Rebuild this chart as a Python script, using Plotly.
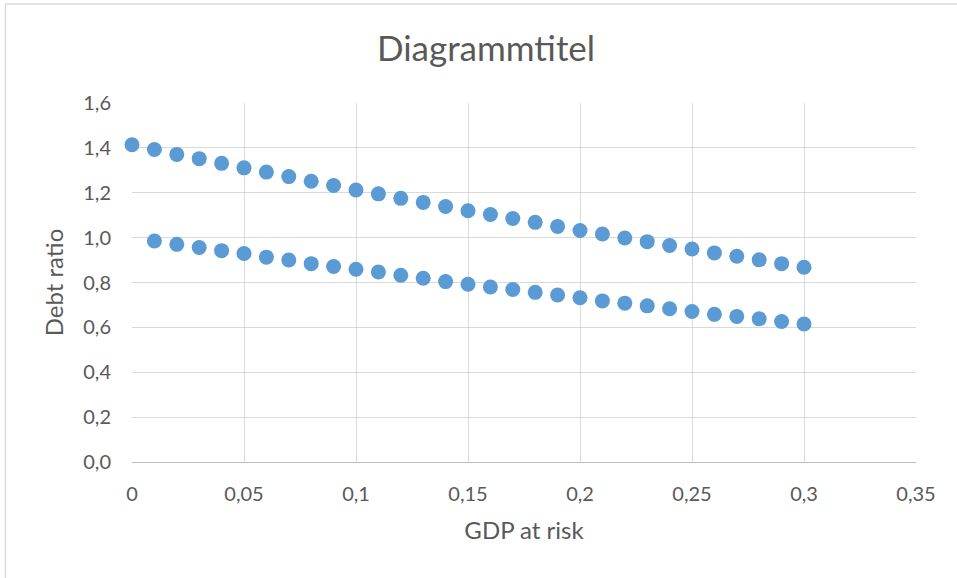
import plotly.graph_objects as go

# ---- data ----
x_upper = [0.00, 0.01, 0.02, 0.03, 0.04, 0.05, 0.06, 0.07, 0.08, 0.09, 0.10,
           0.11, 0.12, 0.13, 0.14, 0.15, 0.16, 0.17, 0.18, 0.19, 0.20,
           0.21, 0.22, 0.23, 0.24, 0.25, 0.26, 0.27, 0.28, 0.29, 0.30]
y_upper = [1.414, 1.393, 1.371, 1.352, 1.331, 1.311, 1.292, 1.272, 1.251, 1.232, 1.212,
           1.195, 1.175, 1.157, 1.139, 1.120, 1.103, 1.085, 1.068, 1.050, 1.032,
           1.016, 0.998, 0.982, 0.965, 0.949, 0.932, 0.917, 0.901, 0.884, 0.868]

x_lower = [0.01, 0.02, 0.03, 0.04, 0.05, 0.06, 0.07, 0.08, 0.09, 0.10,
           0.11, 0.12, 0.13, 0.14, 0.15, 0.16, 0.17, 0.18, 0.19, 0.20,
           0.21, 0.22, 0.23, 0.24, 0.25, 0.26, 0.27, 0.28, 0.29, 0.30]
y_lower = [0.985, 0.970, 0.956, 0.942, 0.929, 0.913, 0.900, 0.884, 0.871, 0.859,
           0.847, 0.832, 0.819, 0.804, 0.792, 0.780, 0.769, 0.756, 0.744, 0.732,
           0.718, 0.708, 0.696, 0.683, 0.671, 0.658, 0.649, 0.638, 0.626, 0.615]

x_tick_vals = [0, 0.05, 0.1, 0.15, 0.2, 0.25, 0.3, 0.35]
x_tick_text = ["0", "0,05", "0,1", "0,15", "0,2", "0,25", "0,3", "0,35"]
y_tick_vals = [0, 0.2, 0.4, 0.6, 0.8, 1.0, 1.2, 1.4, 1.6]
y_tick_text = ["0,0", "0,2", "0,4", "0,6", "0,8", "1,0", "1,2", "1,4", "1,6"]

title_text = "Diagrammtitel"
x_title = "GDP at risk"
y_title = "Debt ratio"

# ---- style ----
BLUE = "#5B9BD5"
TXT = "#595959"
GRID = "#D9D9D9"
FONT = "Lato"

W, H = 957, 578
ML, MR, MT, MB = 132, 41, 103, 116
PW, PH = W - ML - MR, H - MT - MB

fig = go.Figure()
for xs, ys in [(x_upper, y_upper), (x_lower, y_lower)]:
    fig.add_trace(go.Scatter(
        x=xs, y=ys, mode="markers",
        marker=dict(color=BLUE, size=15, line=dict(width=0)),
        cliponaxis=False, showlegend=False,
    ))

fig.update_layout(
    width=W, height=H,
    margin=dict(l=ML, r=MR, t=MT, b=MB, autoexpand=False),
    paper_bgcolor="white", plot_bgcolor="white",
    font=dict(family=FONT, color=TXT, size=20),
    title=dict(text=title_text, x=486 / W, xref="container", xanchor="center",
               y=1 - 49 / H, yref="container", yanchor="middle",
               font=dict(family=FONT, size=35, color=TXT)),
    xaxis=dict(range=[0, 0.35], tickvals=x_tick_vals, ticktext=x_tick_text,
               showgrid=True, gridcolor=GRID, gridwidth=1.3, zeroline=False,
               showline=True, linecolor="#BFBFBF", linewidth=1.3,
               ticks="", ticklabelstandoff=14,
               tickfont=dict(size=20, color=TXT),
               title=dict(text=x_title, font=dict(size=24, color=TXT), standoff=18)),
    yaxis=dict(range=[0, 1.6], tickvals=y_tick_vals, ticktext=y_tick_text,
               showgrid=True, gridcolor=GRID, gridwidth=1.3, zeroline=False,
               showline=False, ticks="", ticklabelstandoff=20,
               tickfont=dict(size=20, color=TXT),
               title=dict(text=y_title, font=dict(size=24, color=TXT), standoff=12)),
    shapes=[dict(type="rect", xref="paper", yref="paper",
                 x0=(5.5 - ML) / PW, x1=2.0, y0=-2.0, y1=(H - MB - 4) / PH,
                 line=dict(color=GRID, width=1.3), layer="below")],
)

fig.write_html("out.html", config={"displayModeBar": False},
               post_script="document.body.style.margin='0';document.body.style.overflow='hidden';")
